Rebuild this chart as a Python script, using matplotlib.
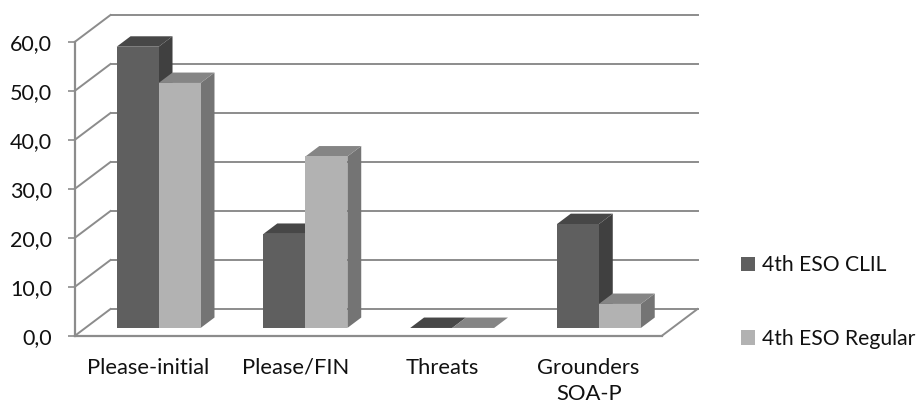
import matplotlib
matplotlib.use("Agg")
import matplotlib.pyplot as plt
from matplotlib.patches import Patch, Polygon

plt.rcParams["font.family"] = ["Lato", "DejaVu Sans"]

categories = ["Please-initial", "Please/FIN", "Threats", "Grounders\nSOA-P"]
clil_values = [57.4, 19.2, 0.0, 21.2]
regular_values = [50.0, 35.0, 0.0, 4.9]
y_ticks = [0, 10, 20, 30, 40, 50, 60]
y_labels = ["0,0", "10,0", "20,0", "30,0", "40,0", "50,0", "60,0"]
series_names = ["4th ESO CLIL", "4th ESO Regular"]

W, H = 918, 403
GRID = "#8c8c8c"
DARK = ("#5f5f5f", "#474747", "#404040")  # front, top, side
LIGHT = ("#b2b2b2", "#858585", "#747474")

# how far one unit of depth shifts things, in data units
DEPTH_X = 35.5 / 146.75
DEPTH_Y = 26.7 / 4.9
BAR_W = 0.286
D0, D1 = 0.29, 0.68


def shift(x, y, d):
    return x + d * DEPTH_X, y + d * DEPTH_Y


def draw_bar(ax, x, value, colors, z):
    front, top, side = colors
    x1 = x + BAR_W
    corners = {
        "fb": shift(x, 0, D0), "fr": shift(x1, 0, D0),
        "ft": shift(x, value, D0), "frt": shift(x1, value, D0),
        "bl": shift(x, value, D1), "br": shift(x1, value, D1),
        "bb": shift(x1, 0, D1),
    }
    ax.add_patch(Polygon([corners["fr"], corners["bb"], corners["br"], corners["frt"]],
                         fc=side, ec="none", zorder=z, clip_on=False))
    ax.add_patch(Polygon([corners["ft"], corners["frt"], corners["br"], corners["bl"]],
                         fc=top, ec="none", zorder=z, clip_on=False))
    ax.add_patch(Polygon([corners["fb"], corners["fr"], corners["frt"], corners["ft"]],
                         fc=front, ec="none", zorder=z, clip_on=False))


fig = plt.figure(figsize=(W / 100, H / 100), dpi=100)
ax = fig.add_axes([75 / W, 1 - 335.7 / H, 587 / W, 294 / H])
ax.set_xlim(0, len(categories))
ax.set_ylim(0, 60)

# back wall gridlines and the diagonals running back from the value axis
n = len(categories)
for v in y_ticks:
    bx, by = shift(0, v, 1)
    ex, _ = shift(n, v, 1)
    ax.plot([bx, ex], [by, by], color=GRID, lw=1.4, zorder=1, clip_on=False)
    ax.plot([0, bx], [v, by], color=GRID, lw=1.4, zorder=1, clip_on=False)
rx, ry = shift(n, 0, 1)
ax.plot([n, rx], [0, ry], color=GRID, lw=1.4, zorder=1, clip_on=False)

for i in range(n):
    start = i + 0.5 - BAR_W
    draw_bar(ax, start, clil_values[i], DARK, 3 + i)
    draw_bar(ax, start + BAR_W, regular_values[i], LIGHT, 3 + i + 0.5)

for name in ["top", "right"]:
    ax.spines[name].set_visible(False)
for name in ["left", "bottom"]:
    ax.spines[name].set_color(GRID)
    ax.spines[name].set_linewidth(1.6)

ax.patch.set_visible(False)
ax.set_yticks(y_ticks, y_labels, fontsize=15.5, color="#111111")
ax.set_xticks([i + 0.5 for i in range(n)], categories, fontsize=15.8, color="#111111",
              linespacing=1.35)
ax.tick_params(axis="y", length=5.4, width=1.2, color=GRID, pad=11)
ax.tick_params(axis="x", length=0, pad=16)

handles = [Patch(fc=DARK[0], ec="none"), Patch(fc=LIGHT[0], ec="none")]
fig.legend(handles, series_names, loc="center left", bbox_to_anchor=(741 / W, 1 - 302 / H),
           frameon=False, fontsize=15.2, handlelength=0.66, handleheight=0.66,
           handletextpad=0.33, labelspacing=2.55, borderpad=0, borderaxespad=0,
           labelcolor="#111111")

fig.savefig("out.png", dpi=100)
